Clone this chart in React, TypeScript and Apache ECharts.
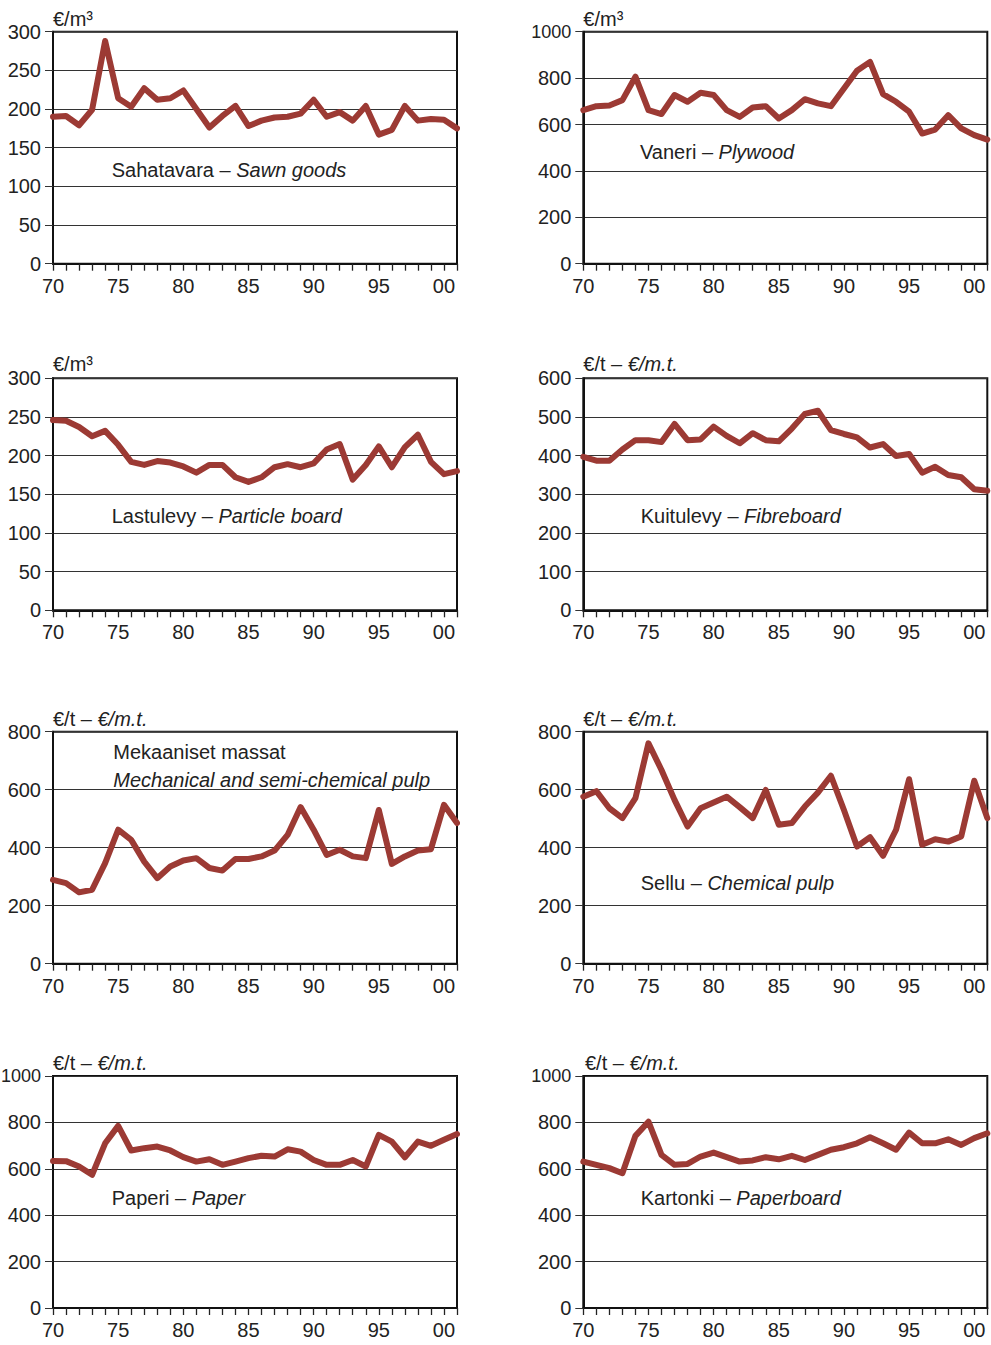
import React, { useEffect, useRef } from "react";
import * as echarts from "echarts";

const years = [
  "70","71","72","73","74","75","76","77","78","79",
  "80","81","82","83","84","85","86","87","88","89",
  "90","91","92","93","94","95","96","97","98","99",
  "00","01",
];

const sawnGoods = [190,191,179,199,288,214,203,227,212,214,224,200,176,191,204,178,185,189,190,194,212,190,196,185,204,167,173,204,185,187,186,175];
const plywood = [662,679,682,705,806,662,645,727,698,737,727,662,633,673,679,626,662,709,691,679,755,832,870,731,698,655,561,578,640,583,554,535];
const particleBoard = [246,245,237,225,232,214,192,188,193,191,186,178,188,188,172,166,172,185,189,185,190,208,215,169,188,212,185,211,227,192,176,180];
const fibreboard = [397,387,387,416,440,440,435,482,440,442,475,451,432,458,440,437,470,508,516,466,456,447,421,430,399,404,356,371,350,344,313,309];
const mechanicalPulp = [289,278,246,255,347,462,427,352,295,335,356,364,330,321,361,361,370,390,444,540,462,375,393,370,364,530,344,370,390,395,548,485];
const chemicalPulp = [576,595,536,502,571,760,668,565,473,536,556,576,540,502,599,479,485,542,590,648,530,404,436,372,462,636,410,429,421,439,631,502];
const paper = [634,633,610,574,710,785,679,689,696,679,650,631,641,617,631,646,656,653,684,674,638,617,617,638,610,746,717,650,717,699,725,750];
const paperboard = [631,617,603,581,742,803,660,617,621,653,670,650,631,636,650,641,656,638,660,682,693,710,736,710,682,756,710,710,727,703,732,753];

const yMax = [300, 1000, 300, 600, 800, 800, 1000, 1000];
const yStep = [50, 200, 50, 100, 200, 200, 200, 200];

const unitLabels = ["€/m³", "€/m³", "€/m³", "€/t – €/m.t.", "€/t – €/m.t.", "€/t – €/m.t.", "€/t – €/m.t.", "€/t – €/m.t."];
const nameFi = ["Sahatavara", "Vaneri", "Lastulevy", "Kuitulevy", "Mekaaniset massat", "Sellu", "Paperi", "Kartonki"];
const nameEn = ["Sawn goods", "Plywood", "Particle board", "Fibreboard", "Mechanical and semi-chemical pulp", "Chemical pulp", "Paper", "Paperboard"];

const seriesData = [sawnGoods, plywood, particleBoard, fibreboard, mechanicalPulp, chemicalPulp, paper, paperboard];

const FONT = "'Liberation Sans', Arial, Helvetica, sans-serif";
const LINE = "#9c3a34";
const TEXT = "#222";
const AX_FS = 20;
const NAME_FS = 20;

const colLeft = [53, 583.3];
const rowTop = [31.7, 378.3, 731.7, 1076];
const PW = 404;
const PH = 232;

// label positions (left, middle y)
const nameLeft = [111.7, 640, 111.7, 640.7, 113.3, 640.7, 111.7, 640.7];
const nameMid = [170, 151.7, 515.7, 515.7, 751.7, 883, 1197.5, 1197.5];
const unitLeft = [53, 583.3, 53, 583.3, 53, 583.3, 53, 585];
const unitBase = [25, 25, 370, 370, 725, 725, 1069.3, 1069.3];

export default function App() {
  const ref = useRef<HTMLDivElement>(null);
  useEffect(() => {
    if (!ref.current) return;
    const chart = echarts.init(ref.current, undefined, { renderer: "svg" });
    const grids: any[] = [];
    const xAxes: any[] = [];
    const yAxes: any[] = [];
    const series: any[] = [];
    const graphics: any[] = [];
    for (let i = 0; i < 8; i++) {
      const col = i % 2;
      const row = Math.floor(i / 2);
      grids.push({
        left: colLeft[col],
        top: rowTop[row],
        width: PW,
        height: PH,
        containLabel: false,
        outerBoundsMode: "none",
        show: true,
        borderColor: "#111",
        borderWidth: 2,
        backgroundColor: "transparent",
      });
      xAxes.push({
        type: "category",
        gridIndex: i,
        data: years,
        boundaryGap: false,
        axisLine: { show: true, lineStyle: { color: "#111", width: 2 } },
        axisTick: { show: true, interval: 0, length: 7, lineStyle: { color: "#222", width: 1.3 } },
        axisLabel: { interval: 4, margin: 12, color: TEXT, fontFamily: FONT, fontSize: AX_FS },
        splitLine: { show: false },
      });
      yAxes.push({
        type: "value",
        gridIndex: i,
        min: 0,
        max: yMax[i],
        interval: yStep[i],
        axisLine: { show: true, lineStyle: { color: "#111", width: 2 } },
        axisTick: { show: true, length: 8, lineStyle: { color: "#333", width: 1 } },
        axisLabel: {
          margin: 12,
          color: TEXT,
          fontFamily: FONT,
          fontSize: AX_FS,
          formatter: (v: number) => (v >= 1000 ? `{s|${v}}` : String(v)),
          rich: { s: { fontFamily: FONT, fontSize: 18, color: TEXT } },
        },
        splitLine: { show: true, lineStyle: { color: "#333", width: 1 } },
      });
      series.push({
        type: "line",
        xAxisIndex: i,
        yAxisIndex: i,
        data: seriesData[i],
        symbol: "none",
        lineStyle: { color: LINE, width: 6, cap: "round", join: "round" },
        z: 5,
      });
      const unitParts = unitLabels[i].split(" – ");
      const unitText = unitParts.length > 1 ? `{n|${unitParts[0]} – }{i|${unitParts[1]}}` : `{n|${unitParts[0]}}`;
      graphics.push({
        type: "text",
        x: unitLeft[i],
        y: unitBase[i] + 4,
        style: {
          text: unitText,
          verticalAlign: "bottom",
          fill: TEXT,
          rich: {
            n: { fontFamily: FONT, fontSize: AX_FS, fill: TEXT, fontStyle: "normal" },
            i: { fontFamily: FONT, fontSize: AX_FS, fill: TEXT, fontStyle: "italic" },
          },
        },
        z: 10,
      });
      if (i === 4) {
        graphics.push({
          type: "text",
          x: nameLeft[i],
          y: nameMid[i],
          style: { text: nameFi[i], verticalAlign: "middle", fill: TEXT, font: `${NAME_FS}px ${FONT}` },
          z: 10,
        });
        graphics.push({
          type: "text",
          x: nameLeft[i],
          y: nameMid[i] + 28,
          style: { text: nameEn[i], verticalAlign: "middle", fill: TEXT, font: `italic ${NAME_FS}px ${FONT}` },
          z: 10,
        });
      } else {
        graphics.push({
          type: "text",
          x: nameLeft[i],
          y: nameMid[i],
          style: {
            text: `{n|${nameFi[i]} – }{i|${nameEn[i]}}`,
            verticalAlign: "middle",
            fill: TEXT,
            rich: {
              n: { fontFamily: FONT, fontSize: NAME_FS, fill: TEXT, fontStyle: "normal" },
              i: { fontFamily: FONT, fontSize: NAME_FS, fill: TEXT, fontStyle: "italic" },
            },
          },
          z: 10,
        });
      }
    }
    chart.setOption({
      animation: false,
      backgroundColor: "#fff",
      grid: grids,
      xAxis: xAxes,
      yAxis: yAxes,
      series,
      graphic: graphics,
    });
    return () => chart.dispose();
  }, []);
  return (
    <div
      ref={ref}
      style={{ position: "absolute", left: 0, top: 0, width: 991, height: 1345 }}
    />
  );
}
